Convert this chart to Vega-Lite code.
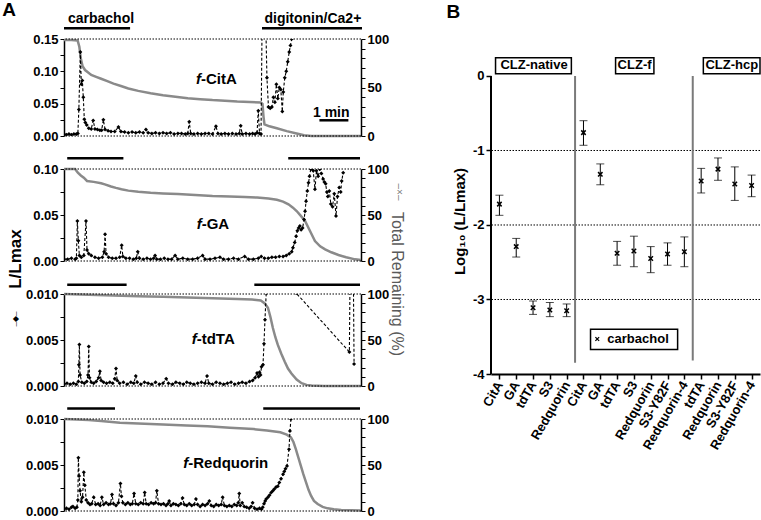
{
"$schema": "https://vega.github.io/schema/vega-lite/v6.json",
"padding": {"left": 2, "top": 0, "right": 0, "bottom": 0},
"config": {
  "font": "Liberation Sans",
  "view": {"stroke": null},
  "axis": {"grid": false, "domainColor": "black", "tickColor": "black", "labelColor": "black", "labelFont": "Liberation Sans", "labelFontWeight": "bold", "labelFontSize": 13, "titleFont": "Liberation Sans", "titleColor": "black", "labelOverlap": false, "labelBound": false}
},
"datasets": {
  "b1": [{"t":0,"v":0.003},{"t":0.1,"v":0.002},{"t":0.2,"v":0.003},{"t":0.3,"v":0.002},{"t":0.4,"v":0.003},{"t":0.5,"v":0.003},{"t":0.56,"v":0.004},{"t":0.6,"v":0.041},{"t":0.66,"v":0.13},{"t":0.7,"v":0.08},{"t":0.74,"v":0.086},{"t":0.78,"v":0.06},{"t":0.82,"v":0.026},{"t":0.86,"v":0.021},{"t":0.92,"v":0.017},{"t":1.0,"v":0.012},{"t":1.1,"v":0.011},{"t":1.18,"v":0.024},{"t":1.25,"v":0.011},{"t":1.35,"v":0.01},{"t":1.45,"v":0.009},{"t":1.52,"v":0.009},{"t":1.59,"v":0.025},{"t":1.66,"v":0.01},{"t":1.78,"v":0.008},{"t":1.9,"v":0.007},{"t":2.05,"v":0.007},{"t":2.2,"v":0.014},{"t":2.3,"v":0.007},{"t":2.45,"v":0.006},{"t":2.6,"v":0.005},{"t":2.75,"v":0.006},{"t":2.9,"v":0.005},{"t":3.05,"v":0.006},{"t":3.2,"v":0.005},{"t":3.31,"v":0.01},{"t":3.4,"v":0.005},{"t":3.55,"v":0.004},{"t":3.7,"v":0.005},{"t":3.85,"v":0.004},{"t":4.0,"v":0.005},{"t":4.15,"v":0.004},{"t":4.3,"v":0.005},{"t":4.45,"v":0.003},{"t":4.6,"v":0.004},{"t":4.75,"v":0.004},{"t":4.9,"v":0.003},{"t":5.0,"v":0.004},{"t":5.06,"v":0.022},{"t":5.12,"v":0.004},{"t":5.25,"v":0.003},{"t":5.4,"v":0.004},{"t":5.55,"v":0.003},{"t":5.7,"v":0.004},{"t":5.85,"v":0.004},{"t":6.0,"v":0.003},{"t":6.14,"v":0.015},{"t":6.22,"v":0.004},{"t":6.35,"v":0.003},{"t":6.5,"v":0.004},{"t":6.65,"v":0.003},{"t":6.8,"v":0.004},{"t":6.95,"v":0.003},{"t":7.08,"v":0.004},{"t":7.14,"v":0.016},{"t":7.2,"v":0.003},{"t":7.35,"v":0.004},{"t":7.5,"v":0.003},{"t":7.62,"v":0.004},{"t":7.72,"v":0.003},{"t":7.8,"v":0.005},{"t":7.85,"v":0.039},{"t":7.9,"v":0.004},{"t":7.96,"v":0.003},{"t":8.0,"v":0.16},{"t":8.08,"v":0.16},{"t":8.16,"v":0.16},{"t":8.2,"v":0.09},{"t":8.26,"v":0.045},{"t":8.33,"v":0.043},{"t":8.4,"v":0.045},{"t":8.46,"v":0.06},{"t":8.52,"v":0.052},{"t":8.58,"v":0.08},{"t":8.64,"v":0.058},{"t":8.7,"v":0.075},{"t":8.76,"v":0.072},{"t":8.82,"v":0.038},{"t":8.86,"v":0.068},{"t":8.92,"v":0.09},{"t":8.98,"v":0.1},{"t":9.04,"v":0.115},{"t":9.1,"v":0.13},{"t":9.15,"v":0.14},{"t":9.2,"v":0.15}],
  "g1": [{"t":0,"r":99},{"t":0.3,"r":99},{"t":0.55,"r":98.5},{"t":0.62,"r":92},{"t":0.68,"r":80},{"t":0.75,"r":72},{"t":0.85,"r":68},{"t":0.95,"r":66},{"t":1.1,"r":63},{"t":1.3,"r":61},{"t":1.5,"r":59},{"t":1.75,"r":56.5},{"t":2.0,"r":54},{"t":2.3,"r":51.5},{"t":2.6,"r":49},{"t":3.0,"r":46.5},{"t":3.5,"r":44},{"t":4.0,"r":42},{"t":4.5,"r":40.5},{"t":5.0,"r":39},{"t":5.5,"r":38},{"t":6.0,"r":37},{"t":6.5,"r":36.3},{"t":7.0,"r":35.5},{"t":7.5,"r":35},{"t":7.95,"r":34.5},{"t":8.02,"r":33},{"t":8.06,"r":20},{"t":8.1,"r":12},{"t":8.3,"r":10},{"t":8.6,"r":8},{"t":9.0,"r":5},{"t":9.4,"r":2.5},{"t":9.7,"r":0.7},{"t":10.0,"r":0},{"t":12.0,"r":0}],
  "b2": [{"t":0,"v":0.002},{"t":0.15,"v":0.002},{"t":0.3,"v":0.003},{"t":0.45,"v":0.002},{"t":0.5,"v":0.003},{"t":0.54,"v":0.0435},{"t":0.58,"v":0.022},{"t":0.62,"v":0.006},{"t":0.7,"v":0.004},{"t":0.8,"v":0.006},{"t":0.89,"v":0.0435},{"t":0.93,"v":0.012},{"t":1.0,"v":0.008},{"t":1.1,"v":0.006},{"t":1.25,"v":0.004},{"t":1.4,"v":0.003},{"t":1.55,"v":0.004},{"t":1.62,"v":0.01},{"t":1.66,"v":0.029},{"t":1.7,"v":0.008},{"t":1.8,"v":0.004},{"t":1.95,"v":0.003},{"t":2.1,"v":0.003},{"t":2.25,"v":0.004},{"t":2.33,"v":0.017},{"t":2.38,"v":0.005},{"t":2.5,"v":0.003},{"t":2.65,"v":0.003},{"t":2.8,"v":0.002},{"t":2.92,"v":0.003},{"t":2.98,"v":0.01},{"t":3.05,"v":0.003},{"t":3.2,"v":0.002},{"t":3.35,"v":0.003},{"t":3.5,"v":0.002},{"t":3.62,"v":0.003},{"t":3.68,"v":0.006},{"t":3.75,"v":0.002},{"t":3.9,"v":0.002},{"t":4.05,"v":0.003},{"t":4.2,"v":0.002},{"t":4.35,"v":0.002},{"t":4.49,"v":0.006},{"t":4.6,"v":0.002},{"t":4.8,"v":0.003},{"t":5.0,"v":0.002},{"t":5.2,"v":0.002},{"t":5.4,"v":0.003},{"t":5.6,"v":0.006},{"t":5.7,"v":0.002},{"t":5.9,"v":0.002},{"t":6.1,"v":0.003},{"t":6.3,"v":0.004},{"t":6.45,"v":0.002},{"t":6.65,"v":0.002},{"t":6.85,"v":0.003},{"t":7.05,"v":0.002},{"t":7.3,"v":0.005},{"t":7.45,"v":0.002},{"t":7.65,"v":0.002},{"t":7.85,"v":0.003},{"t":7.97,"v":0.005},{"t":8.1,"v":0.003},{"t":8.25,"v":0.003},{"t":8.4,"v":0.004},{"t":8.55,"v":0.004},{"t":8.7,"v":0.005},{"t":8.85,"v":0.005},{"t":8.98,"v":0.006},{"t":9.1,"v":0.008},{"t":9.2,"v":0.01},{"t":9.25,"v":0.0145},{"t":9.32,"v":0.02},{"t":9.38,"v":0.027},{"t":9.43,"v":0.033},{"t":9.48,"v":0.036},{"t":9.53,"v":0.038},{"t":9.58,"v":0.034},{"t":9.64,"v":0.036},{"t":9.7,"v":0.045},{"t":9.74,"v":0.054},{"t":9.78,"v":0.065},{"t":9.83,"v":0.076},{"t":9.88,"v":0.085},{"t":9.92,"v":0.092},{"t":9.97,"v":0.1},{"t":10.02,"v":0.1},{"t":10.07,"v":0.098},{"t":10.14,"v":0.078},{"t":10.2,"v":0.098},{"t":10.27,"v":0.092},{"t":10.34,"v":0.1},{"t":10.4,"v":0.095},{"t":10.47,"v":0.089},{"t":10.52,"v":0.086},{"t":10.57,"v":0.084},{"t":10.62,"v":0.075},{"t":10.66,"v":0.07},{"t":10.72,"v":0.076},{"t":10.78,"v":0.062},{"t":10.85,"v":0.059},{"t":10.92,"v":0.073},{"t":10.99,"v":0.049},{"t":11.05,"v":0.07},{"t":11.12,"v":0.08},{"t":11.18,"v":0.075},{"t":11.22,"v":0.087},{"t":11.28,"v":0.096}],
  "g2": [{"t":0,"r":100},{"t":0.45,"r":100},{"t":0.5,"r":98},{"t":0.56,"r":96},{"t":0.68,"r":93},{"t":0.8,"r":90.5},{"t":0.93,"r":87},{"t":1.2,"r":86},{"t":1.5,"r":84.5},{"t":1.65,"r":83.3},{"t":1.9,"r":81},{"t":2.1,"r":79.5},{"t":2.32,"r":78},{"t":2.6,"r":76.5},{"t":3.0,"r":75.2},{"t":3.5,"r":74.2},{"t":4.0,"r":73.5},{"t":4.6,"r":72.8},{"t":5.3,"r":71.8},{"t":6.0,"r":70.6},{"t":6.7,"r":70},{"t":7.3,"r":69.6},{"t":7.8,"r":69},{"t":8.26,"r":68},{"t":8.6,"r":66.5},{"t":8.85,"r":64.5},{"t":9.07,"r":61.6},{"t":9.25,"r":58},{"t":9.4,"r":54.3},{"t":9.57,"r":49},{"t":9.74,"r":43.5},{"t":9.94,"r":32.6},{"t":10.14,"r":21.7},{"t":10.35,"r":16},{"t":10.55,"r":12.7},{"t":10.8,"r":9.5},{"t":11.09,"r":6.5},{"t":11.4,"r":4},{"t":11.76,"r":1.8},{"t":12,"r":1}],
  "b3": [{"t":0,"v":0.0002},{"t":0.12,"v":0.0003},{"t":0.25,"v":0.0002},{"t":0.38,"v":0.0003},{"t":0.5,"v":0.0002},{"t":0.58,"v":0.0005},{"t":0.6,"v":0.0023},{"t":0.62,"v":0.0045},{"t":0.65,"v":0.0012},{"t":0.72,"v":0.0004},{"t":0.82,"v":0.0003},{"t":0.92,"v":0.0005},{"t":0.97,"v":0.0012},{"t":1.0,"v":0.0043},{"t":1.03,"v":0.0009},{"t":1.1,"v":0.0004},{"t":1.2,"v":0.0003},{"t":1.3,"v":0.0005},{"t":1.4,"v":0.0009},{"t":1.45,"v":0.0016},{"t":1.5,"v":0.0006},{"t":1.6,"v":0.0004},{"t":1.72,"v":0.0003},{"t":1.85,"v":0.0004},{"t":1.97,"v":0.0003},{"t":2.05,"v":0.0008},{"t":2.1,"v":0.0019},{"t":2.15,"v":0.0006},{"t":2.25,"v":0.0003},{"t":2.4,"v":0.0004},{"t":2.55,"v":0.0002},{"t":2.7,"v":0.0004},{"t":2.82,"v":0.0003},{"t":2.9,"v":0.0011},{"t":2.96,"v":0.0004},{"t":3.1,"v":0.0002},{"t":3.25,"v":0.0004},{"t":3.4,"v":0.0003},{"t":3.55,"v":0.0002},{"t":3.7,"v":0.0004},{"t":3.85,"v":0.0002},{"t":4.0,"v":0.0003},{"t":4.13,"v":0.0008},{"t":4.22,"v":0.0003},{"t":4.38,"v":0.0002},{"t":4.52,"v":0.0004},{"t":4.68,"v":0.0003},{"t":4.82,"v":0.0002},{"t":4.96,"v":0.0004},{"t":5.1,"v":0.0003},{"t":5.25,"v":0.0002},{"t":5.4,"v":0.0003},{"t":5.55,"v":0.0004},{"t":5.7,"v":0.0003},{"t":5.78,"v":0.0011},{"t":5.85,"v":0.0003},{"t":6.0,"v":0.0002},{"t":6.15,"v":0.0004},{"t":6.3,"v":0.0003},{"t":6.45,"v":0.0002},{"t":6.6,"v":0.0003},{"t":6.75,"v":0.0004},{"t":6.9,"v":0.0002},{"t":7.05,"v":0.0003},{"t":7.2,"v":0.0004},{"t":7.35,"v":0.0003},{"t":7.5,"v":0.0005},{"t":7.62,"v":0.0006},{"t":7.72,"v":0.0009},{"t":7.8,"v":0.0014},{"t":7.86,"v":0.001},{"t":7.9,"v":0.0015},{"t":7.94,"v":0.0012},{"t":7.98,"v":0.0021},{"t":8.04,"v":0.0023},{"t":8.08,"v":0.0046},{"t":8.12,"v":0.0072},{"t":8.17,"v":0.0101},{"t":8.22,"v":0.0125},{"t":9.0,"v":0.0125},{"t":9.38,"v":0.0101},{"t":11.53,"v":0.0037},{"t":11.56,"v":0.0125},{"t":11.69,"v":0.0125},{"t":11.72,"v":0.0024}],
  "g3": [{"t":0,"r":100},{"t":1,"r":99.2},{"t":2,"r":98.4},{"t":3,"r":97.6},{"t":4,"r":96.9},{"t":5,"r":96.2},{"t":6,"r":95.4},{"t":7,"r":94.6},{"t":7.6,"r":94},{"t":7.95,"r":93},{"t":8.1,"r":90},{"t":8.24,"r":85},{"t":8.34,"r":75},{"t":8.44,"r":63},{"t":8.54,"r":53},{"t":8.64,"r":44.7},{"t":8.78,"r":35},{"t":8.92,"r":26.4},{"t":9.05,"r":19},{"t":9.19,"r":13.5},{"t":9.4,"r":7},{"t":9.6,"r":3},{"t":9.8,"r":1.2},{"t":10.0,"r":0.5},{"t":10.5,"r":0},{"t":12,"r":0}],
  "b4": [{"t":0,"v":0.0002},{"t":0.1,"v":0.0003},{"t":0.2,"v":0.0002},{"t":0.3,"v":0.0004},{"t":0.36,"v":0.0005},{"t":0.45,"v":0.0003},{"t":0.52,"v":0.0004},{"t":0.56,"v":0.0012},{"t":0.58,"v":0.0058},{"t":0.61,"v":0.0038},{"t":0.65,"v":0.0022},{"t":0.7,"v":0.001},{"t":0.75,"v":0.0015},{"t":0.8,"v":0.0042},{"t":0.84,"v":0.0028},{"t":0.9,"v":0.0012},{"t":0.97,"v":0.0009},{"t":1.05,"v":0.0007},{"t":1.12,"v":0.0008},{"t":1.2,"v":0.0015},{"t":1.28,"v":0.0007},{"t":1.38,"v":0.0008},{"t":1.46,"v":0.0006},{"t":1.53,"v":0.0015},{"t":1.6,"v":0.0007},{"t":1.7,"v":0.0009},{"t":1.8,"v":0.0007},{"t":1.88,"v":0.0008},{"t":1.94,"v":0.0018},{"t":2.0,"v":0.0008},{"t":2.1,"v":0.0006},{"t":2.2,"v":0.0009},{"t":2.28,"v":0.003},{"t":2.32,"v":0.0016},{"t":2.38,"v":0.0009},{"t":2.48,"v":0.0007},{"t":2.58,"v":0.0009},{"t":2.68,"v":0.0007},{"t":2.76,"v":0.0008},{"t":2.83,"v":0.0019},{"t":2.9,"v":0.0008},{"t":3.0,"v":0.0007},{"t":3.1,"v":0.0009},{"t":3.2,"v":0.0008},{"t":3.26,"v":0.002},{"t":3.32,"v":0.0008},{"t":3.42,"v":0.0007},{"t":3.52,"v":0.0009},{"t":3.62,"v":0.0008},{"t":3.7,"v":0.0009},{"t":3.75,"v":0.0022},{"t":3.82,"v":0.0008},{"t":3.92,"v":0.0007},{"t":4.02,"v":0.0008},{"t":4.12,"v":0.0006},{"t":4.2,"v":0.0008},{"t":4.25,"v":0.0011},{"t":4.32,"v":0.0006},{"t":4.42,"v":0.0008},{"t":4.52,"v":0.0007},{"t":4.62,"v":0.0006},{"t":4.72,"v":0.0008},{"t":4.79,"v":0.0014},{"t":4.86,"v":0.0007},{"t":4.96,"v":0.0006},{"t":5.06,"v":0.0008},{"t":5.16,"v":0.0006},{"t":5.26,"v":0.0007},{"t":5.33,"v":0.0013},{"t":5.4,"v":0.0007},{"t":5.5,"v":0.0005},{"t":5.6,"v":0.0007},{"t":5.7,"v":0.0006},{"t":5.8,"v":0.0008},{"t":5.87,"v":0.0011},{"t":5.95,"v":0.0006},{"t":6.05,"v":0.0005},{"t":6.15,"v":0.0007},{"t":6.25,"v":0.0006},{"t":6.35,"v":0.0007},{"t":6.41,"v":0.0015},{"t":6.48,"v":0.0006},{"t":6.58,"v":0.0005},{"t":6.68,"v":0.0006},{"t":6.78,"v":0.0005},{"t":6.88,"v":0.0007},{"t":6.98,"v":0.0006},{"t":7.04,"v":0.0009},{"t":7.08,"v":0.0019},{"t":7.12,"v":0.0006},{"t":7.2,"v":0.0009},{"t":7.28,"v":0.0005},{"t":7.38,"v":0.0004},{"t":7.48,"v":0.0003},{"t":7.56,"v":0.0005},{"t":7.62,"v":0.0009},{"t":7.7,"v":0.0003},{"t":7.8,"v":0.0002},{"t":7.9,"v":0.0003},{"t":7.98,"v":0.0002},{"t":8.03,"v":0.0004},{"t":8.08,"v":0.0008},{"t":8.13,"v":0.0011},{"t":8.17,"v":0.0013},{"t":8.24,"v":0.0015},{"t":8.3,"v":0.0017},{"t":8.37,"v":0.002},{"t":8.44,"v":0.0022},{"t":8.5,"v":0.0024},{"t":8.57,"v":0.0026},{"t":8.64,"v":0.0027},{"t":8.7,"v":0.0031},{"t":8.77,"v":0.0035},{"t":8.85,"v":0.004},{"t":8.9,"v":0.0043},{"t":8.95,"v":0.0046},{"t":9.01,"v":0.0049},{"t":9.09,"v":0.0067},{"t":9.13,"v":0.0087},{"t":9.17,"v":0.01}],
  "g4": [{"t":0,"r":100},{"t":0.5,"r":99.5},{"t":1,"r":98.8},{"t":1.5,"r":97.8},{"t":2.26,"r":96},{"t":3,"r":95},{"t":4,"r":94},{"t":4.96,"r":93},{"t":5.8,"r":92},{"t":6.7,"r":90.5},{"t":7.66,"r":89},{"t":8.2,"r":87.5},{"t":8.74,"r":85.5},{"t":9.0,"r":83},{"t":9.17,"r":80},{"t":9.27,"r":75},{"t":9.37,"r":67},{"t":9.47,"r":58},{"t":9.57,"r":49},{"t":9.67,"r":40},{"t":9.78,"r":31},{"t":9.88,"r":23},{"t":9.98,"r":16.6},{"t":10.1,"r":11},{"t":10.25,"r":7.6},{"t":10.45,"r":4.5},{"t":10.65,"r":2.9},{"t":10.9,"r":1.8},{"t":11.2,"r":1},{"t":12,"r":0.5}],
  "pts": [{"i":1,"name":"CitA","m":-1.72,"lo":-1.87,"hi":-1.60},{"i":2,"name":"GA","m":-2.29,"lo":-2.43,"hi":-2.18},{"i":3,"name":"tdTA","m":-3.11,"lo":-3.20,"hi":-3.02},{"i":4,"name":"S3","m":-3.14,"lo":-3.23,"hi":-3.04},{"i":5,"name":"Redquorin","m":-3.15,"lo":-3.23,"hi":-3.06},{"i":6,"name":"CitA","m":-0.76,"lo":-0.93,"hi":-0.60},{"i":7,"name":"GA","m":-1.32,"lo":-1.46,"hi":-1.18},{"i":8,"name":"tdTA","m":-2.38,"lo":-2.54,"hi":-2.22},{"i":9,"name":"S3","m":-2.35,"lo":-2.56,"hi":-2.15},{"i":10,"name":"Redquorin","m":-2.45,"lo":-2.64,"hi":-2.29},{"i":11,"name":"S3-Y82F","m":-2.39,"lo":-2.54,"hi":-2.24},{"i":12,"name":"Redquorin-4","m":-2.36,"lo":-2.56,"hi":-2.16},{"i":13,"name":"tdTA","m":-1.41,"lo":-1.57,"hi":-1.24},{"i":14,"name":"Redquorin","m":-1.25,"lo":-1.40,"hi":-1.10},{"i":15,"name":"S3-Y82F","m":-1.45,"lo":-1.67,"hi":-1.22},{"i":16,"name":"Redquorin-4","m":-1.47,"lo":-1.62,"hi":-1.33}]
},
"spacing": 41,
"hconcat": [
 {
  "bounds": "flush",
  "spacing": 33,
  "vconcat": [
   {
    "width": 297, "height": 97,
    "layer": [
     {"data": {"name": "g1"}, "mark": {"type": "line", "color": "#8a8a8a", "strokeWidth": 2.5},
      "encoding": {"x": {"field": "t", "type": "quantitative", "scale": {"domain": [0, 12], "nice": false, "zero": false}, "axis": null},
                   "y": {"field": "r", "type": "quantitative", "scale": {"domain": [0, 100], "nice": false}, "axis": {"orient": "right", "values": [0,10,20,30,40,50,60,70,80,90,100], "labelExpr": "datum.value % 50 == 0 ? '' + datum.value : ''", "title": null, "tickSize": 4, "domainWidth": 1.5, "labelPadding": 2, "labelOverlap": false}}}},
     {"resolve": {"axis": {"y": "independent"}},
      "layer": [
       {"data": {"name": "b1"}, "mark": {"type": "line", "color": "black", "strokeWidth": 1.1, "strokeDash": [3, 2], "clip": true, "point": {"shape": "diamond", "size": 16, "filled": true, "color": "black", "clip": true}},
        "encoding": {"x": {"field": "t", "type": "quantitative", "scale": {"domain": [0, 12], "nice": false, "zero": false}, "axis": null},
                     "y": {"field": "v", "type": "quantitative", "scale": {"domain": [0, 0.15], "nice": false}, "axis": {"orient": "left", "values": [0,0.025,0.05,0.075,0.1,0.125,0.15], "labelExpr": "round(datum.value*1000) % 50 == 0 ? format(datum.value, '.2f') : ''", "title": null, "tickSize": 4, "domainWidth": 1.5, "labelPadding": 2, "labelOverlap": false}}}},
       {"data": {"values": [{"v": 0}, {"v": 0.15}]}, "mark": {"type": "rule", "strokeDash": [1.5, 1.5], "color": "black", "strokeWidth": 1},
        "encoding": {"y": {"field": "v", "type": "quantitative", "scale": {"domain": [0, 0.15], "nice": false}, "axis": null}}},
       {"data": {"values": [{"t": 0, "t2": 2.67, "v": 0.1665}, {"t": 8.0, "t2": 12.04, "v": 0.1665}, {"t": 10.32, "t2": 11.49, "v": 0.0243}]}, "mark": {"type": "rule", "strokeWidth": 2.5, "color": "black", "clip": false},
        "encoding": {"x": {"field": "t", "type": "quantitative", "scale": {"domain": [0, 12], "nice": false, "zero": false}, "axis": null}, "x2": {"field": "t2"},
                     "y": {"field": "v", "type": "quantitative", "scale": {"domain": [0, 0.15], "nice": false}, "axis": null}}},
       {"data": {"values": [{"t": 0.16, "v": 0.1747, "s": "carbachol"}, {"t": 8.1, "v": 0.1747, "s": "digitonin/Ca2+"}, {"t": 10.06, "v": 0.0294, "s": "1 min"}]}, "mark": {"type": "text", "align": "left", "baseline": "alphabetic", "fontSize": 14, "fontWeight": "bold", "color": "black", "clip": false},
        "encoding": {"x": {"field": "t", "type": "quantitative", "scale": {"domain": [0, 12], "nice": false, "zero": false}, "axis": null},
                     "y": {"field": "v", "type": "quantitative", "scale": {"domain": [0, 0.15], "nice": false}, "axis": null}, "text": {"field": "s"}}},
       {"data": {"values": [{"t": -2.5, "v": 0.1856, "s": "A"}]}, "mark": {"type": "text", "align": "left", "baseline": "alphabetic", "fontSize": 19, "fontWeight": "bold", "color": "black", "clip": false},
        "encoding": {"x": {"field": "t", "type": "quantitative", "scale": {"domain": [0, 12], "nice": false, "zero": false}, "axis": null},
                     "y": {"field": "v", "type": "quantitative", "scale": {"domain": [0, 0.15], "nice": false}, "axis": null}, "text": {"field": "s"}}},
       {"data": {"values": [{"t": 5.33, "v": 0.0804, "s": "f"}]}, "mark": {"type": "text", "align": "left", "baseline": "alphabetic", "fontSize": 15, "fontWeight": "bold", "fontStyle": "italic", "color": "black", "clip": false},
        "encoding": {"x": {"field": "t", "type": "quantitative", "scale": {"domain": [0, 12], "nice": false, "zero": false}, "axis": null},
                     "y": {"field": "v", "type": "quantitative", "scale": {"domain": [0, 0.15], "nice": false}, "axis": null}, "text": {"field": "s"}}},
       {"data": {"values": [{"t": 5.33, "v": 0.0804, "s": "-CitA"}]}, "mark": {"type": "text", "align": "left", "baseline": "alphabetic", "fontSize": 15, "fontWeight": "bold", "dx": 5, "color": "black", "clip": false},
        "encoding": {"x": {"field": "t", "type": "quantitative", "scale": {"domain": [0, 12], "nice": false, "zero": false}, "axis": null},
                     "y": {"field": "v", "type": "quantitative", "scale": {"domain": [0, 0.15], "nice": false}, "axis": null}, "text": {"field": "s"}}}
     ]}
    ],
    "resolve": {"scale": {"y": "independent"}}
   },
   {
    "width": 297, "height": 92,
    "layer": [
     {"data": {"name": "g2"}, "mark": {"type": "line", "color": "#8a8a8a", "strokeWidth": 2.5},
      "encoding": {"x": {"field": "t", "type": "quantitative", "scale": {"domain": [0, 12], "nice": false, "zero": false}, "axis": null},
                   "y": {"field": "r", "type": "quantitative", "scale": {"domain": [0, 100], "nice": false}, "axis": {"orient": "right", "values": [0,10,20,30,40,50,60,70,80,90,100], "labelExpr": "datum.value % 50 == 0 ? '' + datum.value : ''", "title": null, "tickSize": 4, "domainWidth": 1.5, "labelPadding": 2, "labelOverlap": false}}}},
     {"resolve": {"axis": {"y": "independent"}},
      "layer": [
       {"data": {"name": "b2"}, "mark": {"type": "line", "color": "black", "strokeWidth": 1.1, "strokeDash": [3, 2], "clip": true, "point": {"shape": "diamond", "size": 16, "filled": true, "color": "black", "clip": true}},
        "encoding": {"x": {"field": "t", "type": "quantitative", "scale": {"domain": [0, 12], "nice": false, "zero": false}, "axis": null},
                     "y": {"field": "v", "type": "quantitative", "scale": {"domain": [0, 0.1], "nice": false}, "axis": {"orient": "left", "values": [0,0.025,0.05,0.075,0.1], "labelExpr": "round(datum.value*1000) % 50 == 0 ? format(datum.value, '.2f') : ''", "title": null, "tickSize": 4, "domainWidth": 1.5, "labelPadding": 2, "labelOverlap": false}}}},
       {"data": {"values": [{"v": 0}, {"v": 0.1}]}, "mark": {"type": "rule", "strokeDash": [1.5, 1.5], "color": "black", "strokeWidth": 1},
        "encoding": {"y": {"field": "v", "type": "quantitative", "scale": {"domain": [0, 0.1], "nice": false}, "axis": null}}},
       {"data": {"values": [{"t": 0.13, "t2": 2.4, "v": 0.1116}, {"t": 9.06, "t2": 11.96, "v": 0.1116}]}, "mark": {"type": "rule", "strokeWidth": 2.5, "color": "black", "clip": false},
        "encoding": {"x": {"field": "t", "type": "quantitative", "scale": {"domain": [0, 12], "nice": false, "zero": false}, "axis": null}, "x2": {"field": "t2"},
                     "y": {"field": "v", "type": "quantitative", "scale": {"domain": [0, 0.1], "nice": false}, "axis": null}}},
       {"data": {"values": [{"t": 5.36, "v": 0.0345, "s": "f"}]}, "mark": {"type": "text", "align": "left", "baseline": "alphabetic", "fontSize": 15, "fontWeight": "bold", "fontStyle": "italic", "color": "black", "clip": false},
        "encoding": {"x": {"field": "t", "type": "quantitative", "scale": {"domain": [0, 12], "nice": false, "zero": false}, "axis": null},
                     "y": {"field": "v", "type": "quantitative", "scale": {"domain": [0, 0.1], "nice": false}, "axis": null}, "text": {"field": "s"}}},
       {"data": {"values": [{"t": 5.36, "v": 0.0345, "s": "-GA"}]}, "mark": {"type": "text", "align": "left", "baseline": "alphabetic", "fontSize": 15, "fontWeight": "bold", "dx": 5, "color": "black", "clip": false},
        "encoding": {"x": {"field": "t", "type": "quantitative", "scale": {"domain": [0, 12], "nice": false, "zero": false}, "axis": null},
                     "y": {"field": "v", "type": "quantitative", "scale": {"domain": [0, 0.1], "nice": false}, "axis": null}, "text": {"field": "s"}}},
       {"data": {"values": [{"t": 13.45, "v": -0.025, "s": "Total Remaining (%)"}]}, "mark": {"type": "text", "align": "center", "baseline": "middle", "angle": 90, "fontSize": 16, "color": "#5a5a5a", "clip": false},
        "encoding": {"x": {"field": "t", "type": "quantitative", "scale": {"domain": [0, 12], "nice": false, "zero": false}, "axis": null},
                     "y": {"field": "v", "type": "quantitative", "scale": {"domain": [0, 0.1], "nice": false}, "axis": null}, "text": {"field": "s"}}},
       {"data": {"values": [{"t": 13.55, "v": 0.075, "s": "‒×‒"}]}, "mark": {"type": "text", "align": "center", "baseline": "middle", "angle": 90, "fontSize": 10, "color": "#808080", "clip": false},
        "encoding": {"x": {"field": "t", "type": "quantitative", "scale": {"domain": [0, 12], "nice": false, "zero": false}, "axis": null},
                     "y": {"field": "v", "type": "quantitative", "scale": {"domain": [0, 0.1], "nice": false}, "axis": null}, "text": {"field": "s"}}}
     ]}
    ],
    "resolve": {"scale": {"y": "independent"}}
   },
   {
    "width": 297, "height": 92,
    "layer": [
     {"data": {"name": "g3"}, "mark": {"type": "line", "color": "#8a8a8a", "strokeWidth": 2.5},
      "encoding": {"x": {"field": "t", "type": "quantitative", "scale": {"domain": [0, 12], "nice": false, "zero": false}, "axis": null},
                   "y": {"field": "r", "type": "quantitative", "scale": {"domain": [0, 100], "nice": false}, "axis": {"orient": "right", "values": [0,10,20,30,40,50,60,70,80,90,100], "labelExpr": "datum.value % 50 == 0 ? '' + datum.value : ''", "title": null, "tickSize": 4, "domainWidth": 1.5, "labelPadding": 2, "labelOverlap": false}}}},
     {"resolve": {"axis": {"y": "independent"}},
      "layer": [
       {"data": {"name": "b3"}, "mark": {"type": "line", "color": "black", "strokeWidth": 1.1, "strokeDash": [3, 2], "clip": true, "point": {"shape": "diamond", "size": 16, "filled": true, "color": "black", "clip": true}},
        "encoding": {"x": {"field": "t", "type": "quantitative", "scale": {"domain": [0, 12], "nice": false, "zero": false}, "axis": null},
                     "y": {"field": "v", "type": "quantitative", "scale": {"domain": [0, 0.01], "nice": false}, "axis": {"orient": "left", "values": [0,0.0025,0.005,0.0075,0.01], "labelExpr": "round(datum.value*10000) % 50 == 0 ? format(datum.value, '.3f') : ''", "title": null, "tickSize": 4, "domainWidth": 1.5, "labelPadding": 2, "labelOverlap": false}}}},
       {"data": {"values": [{"v": 0}, {"v": 0.01}]}, "mark": {"type": "rule", "strokeDash": [1.5, 1.5], "color": "black", "strokeWidth": 1},
        "encoding": {"y": {"field": "v", "type": "quantitative", "scale": {"domain": [0, 0.01], "nice": false}, "axis": null}}},
       {"data": {"values": [{"t": 0.13, "t2": 2.53, "v": 0.011}, {"t": 7.69, "t2": 11.96, "v": 0.011}]}, "mark": {"type": "rule", "strokeWidth": 2.5, "color": "black", "clip": false},
        "encoding": {"x": {"field": "t", "type": "quantitative", "scale": {"domain": [0, 12], "nice": false, "zero": false}, "axis": null}, "x2": {"field": "t2"},
                     "y": {"field": "v", "type": "quantitative", "scale": {"domain": [0, 0.01], "nice": false}, "axis": null}}},
       {"data": {"values": [{"t": 5.16, "v": 0.00453, "s": "f"}]}, "mark": {"type": "text", "align": "left", "baseline": "alphabetic", "fontSize": 15, "fontWeight": "bold", "fontStyle": "italic", "color": "black", "clip": false},
        "encoding": {"x": {"field": "t", "type": "quantitative", "scale": {"domain": [0, 12], "nice": false, "zero": false}, "axis": null},
                     "y": {"field": "v", "type": "quantitative", "scale": {"domain": [0, 0.01], "nice": false}, "axis": null}, "text": {"field": "s"}}},
       {"data": {"values": [{"t": 5.16, "v": 0.00453, "s": "-tdTA"}]}, "mark": {"type": "text", "align": "left", "baseline": "alphabetic", "fontSize": 15, "fontWeight": "bold", "dx": 5, "color": "black", "clip": false},
        "encoding": {"x": {"field": "t", "type": "quantitative", "scale": {"domain": [0, 12], "nice": false, "zero": false}, "axis": null},
                     "y": {"field": "v", "type": "quantitative", "scale": {"domain": [0, 0.01], "nice": false}, "axis": null}, "text": {"field": "s"}}},
       {"data": {"values": [{"t": -1.94, "v": 0.0138, "s": "L/Lmax"}]}, "mark": {"type": "text", "align": "center", "baseline": "middle", "angle": 270, "fontSize": 17, "fontWeight": "bold", "color": "black", "clip": false},
        "encoding": {"x": {"field": "t", "type": "quantitative", "scale": {"domain": [0, 12], "nice": false, "zero": false}, "axis": null},
                     "y": {"field": "v", "type": "quantitative", "scale": {"domain": [0, 0.01], "nice": false}, "axis": null}, "text": {"field": "s"}}},
       {"data": {"values": [{"t": -1.94, "v": 0.00728, "s": "‒◆‒"}]}, "mark": {"type": "text", "align": "center", "baseline": "middle", "angle": 270, "fontSize": 8, "color": "black", "clip": false},
        "encoding": {"x": {"field": "t", "type": "quantitative", "scale": {"domain": [0, 12], "nice": false, "zero": false}, "axis": null},
                     "y": {"field": "v", "type": "quantitative", "scale": {"domain": [0, 0.01], "nice": false}, "axis": null}, "text": {"field": "s"}}}
     ]}
    ],
    "resolve": {"scale": {"y": "independent"}}
   },
   {
    "width": 297, "height": 92,
    "layer": [
     {"data": {"name": "g4"}, "mark": {"type": "line", "color": "#8a8a8a", "strokeWidth": 2.5},
      "encoding": {"x": {"field": "t", "type": "quantitative", "scale": {"domain": [0, 12], "nice": false, "zero": false}, "axis": null},
                   "y": {"field": "r", "type": "quantitative", "scale": {"domain": [0, 100], "nice": false}, "axis": {"orient": "right", "values": [0,10,20,30,40,50,60,70,80,90,100], "labelExpr": "datum.value % 50 == 0 ? '' + datum.value : ''", "title": null, "tickSize": 4, "domainWidth": 1.5, "labelPadding": 2, "labelOverlap": false}}}},
     {"resolve": {"axis": {"y": "independent"}},
      "layer": [
       {"data": {"name": "b4"}, "mark": {"type": "line", "color": "black", "strokeWidth": 1.1, "strokeDash": [3, 2], "clip": true, "point": {"shape": "diamond", "size": 16, "filled": true, "color": "black", "clip": true}},
        "encoding": {"x": {"field": "t", "type": "quantitative", "scale": {"domain": [0, 12], "nice": false, "zero": false}, "axis": null},
                     "y": {"field": "v", "type": "quantitative", "scale": {"domain": [0, 0.01], "nice": false}, "axis": {"orient": "left", "values": [0,0.0025,0.005,0.0075,0.01], "labelExpr": "round(datum.value*10000) % 50 == 0 ? format(datum.value, '.3f') : ''", "title": null, "tickSize": 4, "domainWidth": 1.5, "labelPadding": 2, "labelOverlap": false}}}},
       {"data": {"values": [{"v": 0}, {"v": 0.01}]}, "mark": {"type": "rule", "strokeDash": [1.5, 1.5], "color": "black", "strokeWidth": 1},
        "encoding": {"y": {"field": "v", "type": "quantitative", "scale": {"domain": [0, 0.01], "nice": false}, "axis": null}}},
       {"data": {"values": [{"t": 0.13, "t2": 2.06, "v": 0.01114}, {"t": 8.05, "t2": 11.96, "v": 0.01114}]}, "mark": {"type": "rule", "strokeWidth": 2.5, "color": "black", "clip": false},
        "encoding": {"x": {"field": "t", "type": "quantitative", "scale": {"domain": [0, 12], "nice": false, "zero": false}, "axis": null}, "x2": {"field": "t2"},
                     "y": {"field": "v", "type": "quantitative", "scale": {"domain": [0, 0.01], "nice": false}, "axis": null}}},
       {"data": {"values": [{"t": 4.82, "v": 0.0047, "s": "f"}]}, "mark": {"type": "text", "align": "left", "baseline": "alphabetic", "fontSize": 15, "fontWeight": "bold", "fontStyle": "italic", "color": "black", "clip": false},
        "encoding": {"x": {"field": "t", "type": "quantitative", "scale": {"domain": [0, 12], "nice": false, "zero": false}, "axis": null},
                     "y": {"field": "v", "type": "quantitative", "scale": {"domain": [0, 0.01], "nice": false}, "axis": null}, "text": {"field": "s"}}},
       {"data": {"values": [{"t": 4.82, "v": 0.0047, "s": "-Redquorin"}]}, "mark": {"type": "text", "align": "left", "baseline": "alphabetic", "fontSize": 15, "fontWeight": "bold", "dx": 5, "color": "black", "clip": false},
        "encoding": {"x": {"field": "t", "type": "quantitative", "scale": {"domain": [0, 12], "nice": false, "zero": false}, "axis": null},
                     "y": {"field": "v", "type": "quantitative", "scale": {"domain": [0, 0.01], "nice": false}, "axis": null}, "text": {"field": "s"}}}
     ]}
    ],
    "resolve": {"scale": {"y": "independent"}}
   }
  ]
 },
 {
  "width": 269, "height": 335,
  "resolve": {"axis": {"x": "independent", "y": "independent"}},
  "layer": [
   {"data": {"values": [{"y": -1}, {"y": -2}, {"y": -3}]}, "mark": {"type": "rule", "strokeDash": [1.5, 1.5], "color": "black", "strokeWidth": 1},
    "encoding": {"y": {"field": "y", "type": "quantitative", "scale": {"domain": [-4, 0.4966], "nice": false, "zero": false}, "axis": null}}},
   {"data": {"values": [{"x": 5.5, "y": -3.85}, {"x": 12.5, "y": -3.82}]}, "mark": {"type": "rule", "color": "#7a7a7a", "strokeWidth": 2},
    "encoding": {"x": {"field": "x", "type": "quantitative", "scale": {"domain": [0.5, 16.5], "nice": false, "zero": false}, "axis": null},
                 "y": {"field": "y", "type": "quantitative", "scale": {"domain": [-4, 0.4966], "nice": false, "zero": false}, "axis": null}, "y2": {"datum": 0}}},
   {"data": {"values": [{"x": 0.5, "y": -4, "y2": 0}]}, "mark": {"type": "rule", "color": "black", "strokeWidth": 2},
    "encoding": {"x": {"field": "x", "type": "quantitative", "scale": {"domain": [0.5, 16.5], "nice": false, "zero": false}, "axis": null},
                 "y": {"field": "y", "type": "quantitative", "scale": {"domain": [-4, 0.4966], "nice": false, "zero": false}, "axis": null}, "y2": {"field": "y2"}}},
   {"data": {"name": "pts"}, "mark": {"type": "rule", "color": "black", "strokeWidth": 1},
    "encoding": {"x": {"field": "i", "type": "quantitative", "scale": {"domain": [0.5, 16.5], "nice": false, "zero": false}, "axis": null},
                 "y": {"field": "lo", "type": "quantitative", "scale": {"domain": [-4, 0.4966], "nice": false, "zero": false}, "axis": null}, "y2": {"field": "hi"}}},
   {"data": {"name": "pts"}, "mark": {"type": "tick", "orient": "horizontal", "size": 8, "thickness": 1, "color": "black"},
    "encoding": {"x": {"field": "i", "type": "quantitative", "scale": {"domain": [0.5, 16.5], "nice": false, "zero": false}, "axis": null},
                 "y": {"field": "lo", "type": "quantitative", "scale": {"domain": [-4, 0.4966], "nice": false, "zero": false}, "axis": null}}},
   {"data": {"name": "pts"}, "mark": {"type": "tick", "orient": "horizontal", "size": 8, "thickness": 1, "color": "black"},
    "encoding": {"x": {"field": "i", "type": "quantitative", "scale": {"domain": [0.5, 16.5], "nice": false, "zero": false}, "axis": null},
                 "y": {"field": "hi", "type": "quantitative", "scale": {"domain": [-4, 0.4966], "nice": false, "zero": false}, "axis": null}}},
   {"data": {"name": "pts"}, "mark": {"type": "point", "shape": "M-1,-1L1,1M-1,1L1,-1", "size": 20, "filled": false, "strokeWidth": 1.5, "color": "black", "opacity": 1},
    "encoding": {"x": {"field": "i", "type": "quantitative", "scale": {"domain": [0.5, 16.5], "nice": false, "zero": false},
                       "axis": {"values": [1,2,3,4,5,6,7,8,9,10,11,12,13,14,15,16], "labelExpr": "['CitA','GA','tdTA','S3','Redquorin','CitA','GA','tdTA','S3','Redquorin','S3-Y82F','Redquorin-4','tdTA','Redquorin','S3-Y82F','Redquorin-4'][datum.value-1]", "labelAngle": -60, "labelAlign": "right", "labelBaseline": "middle", "labelOverlap": false, "labelFlush": false, "tickSize": 5, "tickWidth": 1.5, "domainWidth": 2, "title": null, "labelPadding": 3}},
                 "y": {"field": "m", "type": "quantitative", "scale": {"domain": [-4, 0.4966], "nice": false, "zero": false},
                       "axis": {"values": [-4, -3, -2, -1, 0], "labelExpr": "datum.value + ''", "title": "Log₁₀ (L/Lmax)", "titleFontSize": 15, "titleFontWeight": "bold", "titlePadding": 5, "titleY": 182, "domain": false, "tickSize": 5, "tickWidth": 1.5, "labelPadding": 2, "labelOverlap": false}}}},
   {"data": {"values": [{"x": 0.77, "x2": 5.28, "y": 0.03, "y2": 0.246}, {"x": 7.91, "x2": 10.19, "y": 0.03, "y2": 0.246}, {"x": 13.13, "x2": 16.5, "y": 0.03, "y2": 0.246}, {"x": 6.42, "x2": 11.6, "y": -3.4, "y2": -3.67}]},
    "mark": {"type": "rect", "fill": "white", "stroke": "black", "strokeWidth": 1.5, "clip": false},
    "encoding": {"x": {"field": "x", "type": "quantitative", "scale": {"domain": [0.5, 16.5], "nice": false, "zero": false}, "axis": null}, "x2": {"field": "x2"},
                 "y": {"field": "y", "type": "quantitative", "scale": {"domain": [-4, 0.4966], "nice": false, "zero": false}, "axis": null}, "y2": {"field": "y2"}}},
   {"data": {"values": [{"x": 3.06, "y": 0.09, "s": "CLZ-native"}, {"x": 9.04, "y": 0.09, "s": "CLZ-f"}, {"x": 14.82, "y": 0.09, "s": "CLZ-hcp"}]},
    "mark": {"type": "text", "align": "center", "baseline": "alphabetic", "fontSize": 13, "fontWeight": "bold", "color": "black", "clip": false},
    "encoding": {"x": {"field": "x", "type": "quantitative", "scale": {"domain": [0.5, 16.5], "nice": false, "zero": false}, "axis": null},
                 "y": {"field": "y", "type": "quantitative", "scale": {"domain": [-4, 0.4966], "nice": false, "zero": false}, "axis": null}, "text": {"field": "s"}}},
   {"data": {"values": [{"x": 7.42, "y": -3.59, "s": "carbachol"}]},
    "mark": {"type": "text", "align": "left", "baseline": "alphabetic", "fontSize": 13, "fontWeight": "bold", "color": "black"},
    "encoding": {"x": {"field": "x", "type": "quantitative", "scale": {"domain": [0.5, 16.5], "nice": false, "zero": false}, "axis": null},
                 "y": {"field": "y", "type": "quantitative", "scale": {"domain": [-4, 0.4966], "nice": false, "zero": false}, "axis": null}, "text": {"field": "s"}}},
   {"data": {"values": [{"x": 6.82, "y": -3.53}]},
    "mark": {"type": "point", "shape": "M-1,-1L1,1M-1,1L1,-1", "size": 14, "filled": false, "strokeWidth": 1.3, "color": "black", "opacity": 1},
    "encoding": {"x": {"field": "x", "type": "quantitative", "scale": {"domain": [0.5, 16.5], "nice": false, "zero": false}, "axis": null},
                 "y": {"field": "y", "type": "quantitative", "scale": {"domain": [-4, 0.4966], "nice": false, "zero": false}, "axis": null}}},
   {"data": {"values": [{"x": -2.15, "y": 0.78, "s": "B"}]},
    "mark": {"type": "text", "align": "left", "baseline": "alphabetic", "fontSize": 19, "fontWeight": "bold", "color": "black", "clip": false},
    "encoding": {"x": {"field": "x", "type": "quantitative", "scale": {"domain": [0.5, 16.5], "nice": false, "zero": false}, "axis": null},
                 "y": {"field": "y", "type": "quantitative", "scale": {"domain": [-4, 0.4966], "nice": false, "zero": false}, "axis": null}, "text": {"field": "s"}}}
  ]
 }
]
}
